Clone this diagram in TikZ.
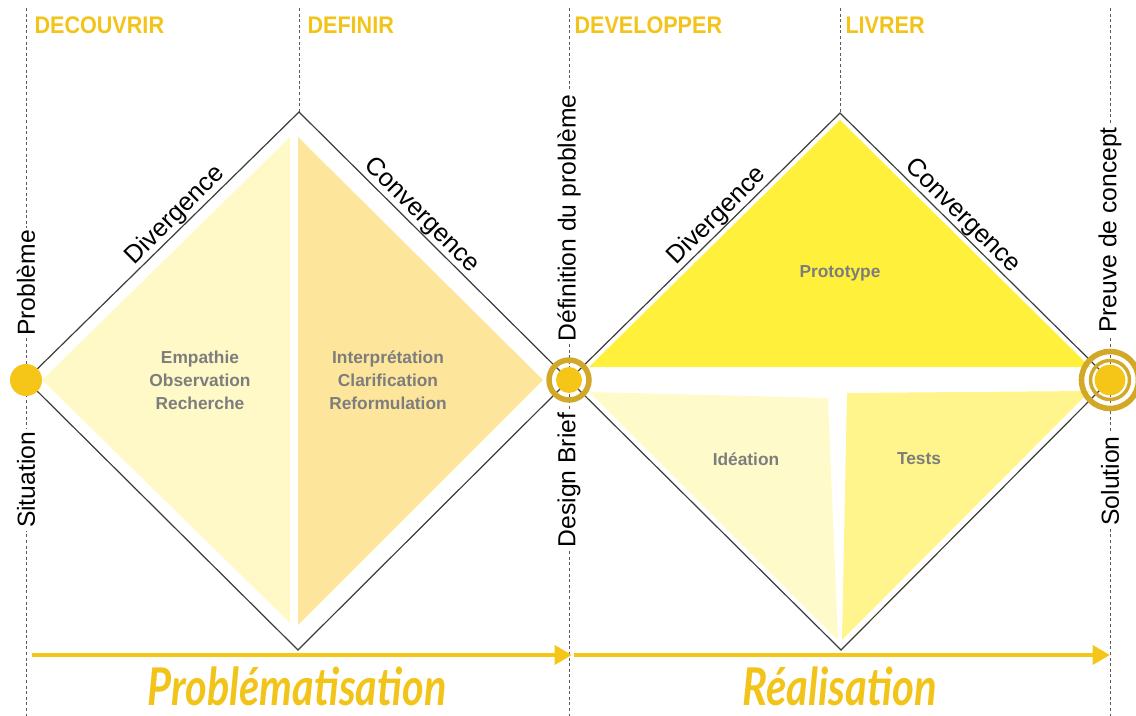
\documentclass[tikz,border=0pt]{standalone}
\usepackage{fontspec}
\setmainfont{Liberation Sans}
\newfontfamily\phasefont[FakeStretch=0.9]{Liberation Sans}
\newfontfamily\handfont{Lato}
\usetikzlibrary{arrows.meta}

\definecolor{phaseyellow}{RGB}{242,195,24}
\definecolor{dotyellow}{RGB}{245,197,24}
\definecolor{ringgold}{RGB}{210,168,40}
\definecolor{discoverfill}{RGB}{255,249,200}
\definecolor{definefill}{RGB}{253,230,155}
\definecolor{protofill}{RGB}{255,240,60}
\definecolor{ideafill}{RGB}{255,250,202}
\definecolor{testfill}{RGB}{255,245,140}
\definecolor{innergray}{RGB}{125,125,125}

\tikzset{every picture/.style={line width=0.75pt}}
\tikzset{
  guide/.style={draw={rgb, 255:red, 90; green, 90; blue, 90}, line width=0.75pt, dash pattern={on 2.2pt off 2pt}},
  diamondline/.style={draw={rgb, 255:red, 60; green, 60; blue, 60}, line width=0.9pt},
  phase/.style={anchor=base west, text=phaseyellow, inner sep=0pt, font=\phasefont\bfseries\fontsize{18}{20}\selectfont},
  side/.style={rotate=90, fill=white, inner sep=2pt, font=\fontsize{18.5}{20}\selectfont},
  slopelabel/.style={anchor=south, inner sep=0.5pt, font=\fontsize{19}{21}\selectfont},
  inner/.style={align=center, text=innergray, font=\bfseries\fontsize{13}{17.25}\selectfont},
  dot/.style={circle, fill=dotyellow, inner sep=0pt},
  ring/.style={draw=ringgold},
  flow/.style={draw=dotyellow, line width=3.4pt, -{Triangle[length=13pt,width=14pt]}},
  hand/.style={text=phaseyellow, anchor=base, inner sep=0pt, font=\handfont\bfseries\itshape},
}

\begin{document}
\begin{tikzpicture}[x=0.75pt,y=0.75pt,yscale=-1,xscale=1]
\useasboundingbox (0,0) rectangle (1136,716);

%Diamond corners
\coordinate (d1l) at (26,380);
\coordinate (d1t) at (299,112);
\coordinate (d1r) at (569,380);
\coordinate (d1b) at (298,650);
\coordinate (d2l) at (569,380);
\coordinate (d2t) at (840,113);
\coordinate (d2r) at (1110,380);
\coordinate (d2b) at (841,650);

%Dashed guides
\draw [guide] (26,8) -- (26,716) ;
\draw [guide] (299,8) -- (d1t) ;
\draw [guide] (569,8) -- (569,716) ;
\draw [guide] (840,8) -- (d2t) ;
\draw [guide] (1110,8) -- (1110,716) ;

%Fills of the first diamond
\fill [discoverfill] (42,380) -- (290,137) -- (290,623) -- cycle ;
\fill [definefill] (298,137) -- (543,380) -- (298,625) -- cycle ;
%Fills of the second diamond
\fill [protofill] (589,367) -- (840,120) -- (1090,367) -- cycle ;
\fill [ideafill] (589,392) -- (828,398) -- (838,640) -- cycle ;
\fill [testfill] (847,393) -- (1090,391) -- (842,640) -- cycle ;

%Diamond outlines
\draw [diamondline] (d1l) -- (d1t) -- (d1r) -- (d1b) -- cycle ;
\draw [diamondline] (d2l) -- (d2t) -- (d2r) -- (d2b) -- cycle ;

%Edge labels
\path (d1l) -- (d1t) node [slopelabel, rotate=45, pos=0.58] (div1) {Divergence} ;
\path (d1t) -- (d1r) node [slopelabel, rotate=-45, pos=0.42] (conv1) {Convergence} ;
\path (d2l) -- (d2t) node [slopelabel, rotate=45, pos=0.58] (div2) {Divergence} ;
\path (d2t) -- (d2r) node [slopelabel, rotate=-45, pos=0.42] (conv2) {Convergence} ;

%Milestones
\node [dot, minimum size=24pt] (start) at (d1l) {} ;
\draw [ring, line width=4.1pt] (d1r) circle [radius=20] ;
\node [dot, minimum size=19.5pt] (brief) at (d1r) {} ;
\draw [ring, line width=4.2pt] (d2r) circle [radius=28.5] ;
\draw [ring, line width=2.6pt] (d2r) circle [radius=19.5] ;
\node [dot, minimum size=23pt] (proof) at (d2r) {} ;

%Side labels
\node [side] (probleme) at (26,283) {Problème} ;
\node [side] (situation) at (26,480) {Situation} ;
\node [side] (definition) at (569,218) {Définition du problème} ;
\node [side] (designbrief) at (569,480) {Design Brief} ;
\node [side] (preuve) at (1110,230) {Preuve de concept} ;
\node [side] (solution) at (1110,481) {Solution} ;

%Phases
\node [phase] (decouvrir) at (34,34) {DECOUVRIR} ;
\node [phase] (definir) at (307,34) {DEFINIR} ;
\node [phase] (developper) at (574,34) {DEVELOPPER} ;
\node [phase] (livrer) at (845,34) {LIVRER} ;

%Activities
\node [inner] (explore) at (200,380) {Empathie\\Observation\\Recherche} ;
\node [inner] (interpret) at (388,380) {Interprétation\\Clarification\\Reformulation} ;
\node [inner] (prototype) at (840,273) {Prototype} ;
\node [inner] (ideation) at (746,459) {Idéation} ;
\node [inner] (tests) at (919,459) {Tests} ;

%Timeline
\coordinate (flow1a) at (32,655);
\coordinate (flow1b) at (572,655);
\coordinate (flow2a) at (574,655);
\coordinate (flow2b) at (1110,655);
\draw [flow] (flow1a) -- (flow1b) ;
\draw [flow] (flow2a) -- (flow2b) ;
\node [hand] (problematisation) at (297,705) {\resizebox{224pt}{29pt}{Problématisation}} ;
\node [hand] (realisation) at (840,705) {\resizebox{146pt}{29pt}{Réalisation}} ;
\end{tikzpicture}
\end{document}
